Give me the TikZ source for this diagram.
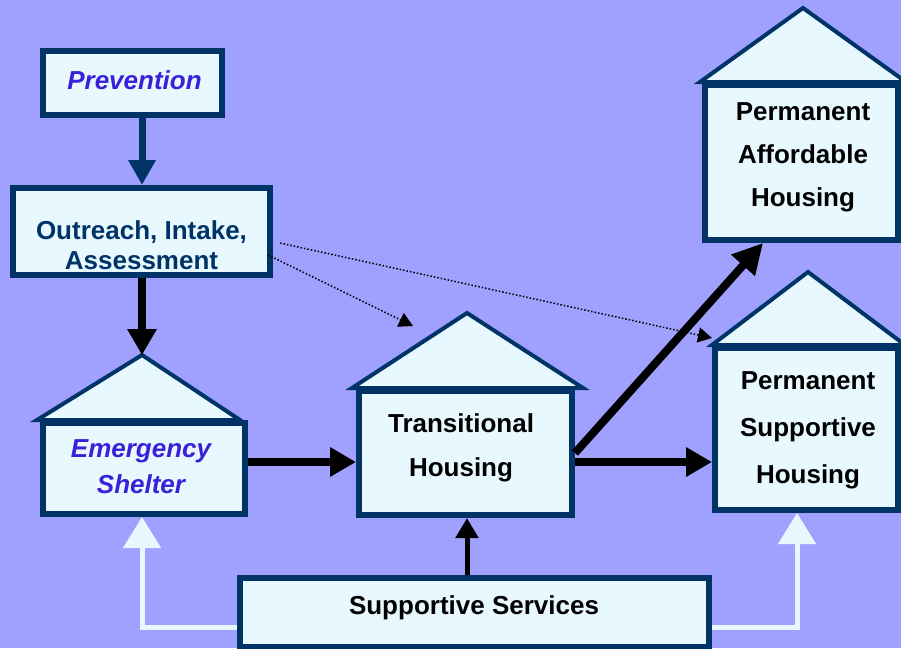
\documentclass[tikz,border=0pt]{standalone}
\usepackage{fontspec}
\setmainfont{Liberation Sans}
\usetikzlibrary{arrows.meta}
\definecolor{bg}{HTML}{A0A0FF}
\definecolor{boxfill}{HTML}{E8F8FF}
\definecolor{navy}{HTML}{003366}
\definecolor{violettext}{HTML}{3A20D8}
\begin{document}
\begin{tikzpicture}[x=1pt,y=-1pt,
  box/.style={draw=navy,fill=boxfill,line width=6pt,inner sep=0pt},
  roof/.style={draw=navy,fill=boxfill,line width=4pt,line join=miter},
  lbl/.style={inner sep=0pt,align=center,font=\fontsize{26}{#1}\selectfont\bfseries},
  lbl/.default=30,
  blkarrow/.style={draw=black,line width=8pt,-{Triangle[width=28pt,length=26pt]}},
  navyarrow/.style={draw=navy,line width=7pt,-{Triangle[width=26pt,length=25pt]}},
  thinarrow/.style={draw=black,line width=5pt,-{Triangle[width=22pt,length=20pt]}},
  whitearrow/.style={draw=boxfill,line width=5pt,-{Triangle[width=37pt,length=31pt]}},
  dotarrow/.style={draw=black,line width=1.5pt,dotted,-{Triangle[width=15pt,length=14pt]}}]
\useasboundingbox (0,0) rectangle (901,648);
\fill[bg] (0,0) rectangle (901,648);
% roofs
\draw[roof] (37,420) -- (142,355) -- (240,420) -- cycle;
\draw[roof] (352,388) -- (467,313) -- (583,388) -- cycle;
\draw[roof] (712,345) -- (808,272) -- (905,345) -- cycle;
\draw[roof] (700,82) -- (803,8) -- (906,82) -- cycle;
\coordinate (esapex) at (142,355);
\coordinate (thapex) at (467,313);
% boxes
\node[box,minimum width=179pt,minimum height=64pt] (prev) at (132.5,83) {};
\node[box,minimum width=257pt,minimum height=87pt] (outreach) at (141.5,231.5) {};
\node[box,minimum width=202pt,minimum height=91pt] (es) at (144,468.5) {};
\node[box,minimum width=213pt,minimum height=124pt] (th) at (465.5,453) {};
\node[box,minimum width=193pt,minimum height=155pt] (pah) at (801.5,162.5) {};
\node[box,minimum width=183pt,minimum height=162pt] (psh) at (806.5,429) {};
\node[box,minimum width=469pt,minimum height=69pt] (ss) at (474.5,612.5) {};
% labels
\node[lbl,text=violettext,font=\fontsize{26}{30}\selectfont\bfseries\itshape] (prevtxt) at (134.5,80) {Prevention};
\node[lbl,text=navy] (outtxt) at (141.5,245.5) {Outreach, Intake,\\Assessment};
\node[lbl=36,text=violettext,font=\fontsize{26}{36}\selectfont\bfseries\itshape] (estxt) at (141,467) {Emergency\\Shelter};
\node[lbl=44] (thtxt) at (461,448) {Transitional\\Housing};
\node[lbl=43] (pahtxt) at (803,157) {Permanent\\Affordable\\Housing};
\node[lbl=47] (pshtxt) at (808,430) {Permanent\\Supportive\\Housing};
\node[lbl] (sstxt) at (474,608) {Supportive Services};
% connectors
\draw[navyarrow] (prev.south -| esapex) -- (outreach.north -| esapex);
\draw[blkarrow] (outreach.south -| esapex) -- (esapex);
\coordinate (row) at (0,462);
\draw[blkarrow] (es.east |- row) -- (th.west |- row);
\draw[blkarrow] (th.east |- row) -- (psh.west |- row);
\coordinate (dstart) at (575,453);
\coordinate (pahtip) at (763,243);
\draw[blkarrow,-{Triangle[width=30pt,length=30pt]}] (dstart) -- (pahtip);
\draw[thinarrow] (ss.north -| thapex) -- (th.south -| thapex);
\coordinate (wrow) at (0,627);
\coordinate (pshin) at (797,513);
\draw[whitearrow] (ss.west |- wrow) -| (es.south -| esapex);
\draw[whitearrow] (ss.east |- wrow) -| (pshin);
\coordinate (d1s) at (280,243);
\coordinate (d1e) at (712,338);
\coordinate (d2s) at (268,255);
\coordinate (d2e) at (413,326);
\draw[dotarrow] (d1s) -- (d1e);
\draw[dotarrow] (d2s) -- (d2e);
\end{tikzpicture}
\end{document}
